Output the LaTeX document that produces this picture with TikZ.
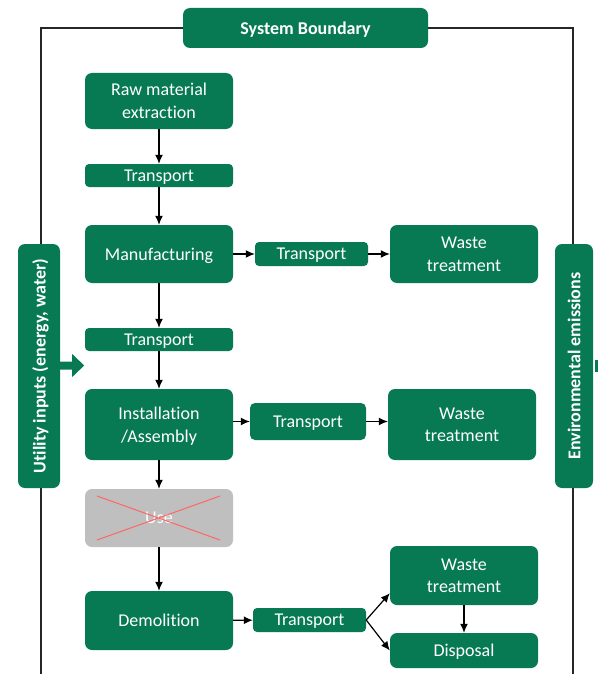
\documentclass[tikz,border=0pt]{standalone}
\usepackage{fontspec}
\setmainfont{Carlito}[Ligatures={TeX,NoCommon}]
\usetikzlibrary{arrows.meta}
\definecolor{lcagreen}{RGB}{7,122,84}
\definecolor{usegray}{RGB}{191,191,191}
\definecolor{crossred}{RGB}{255,102,102}
\newcommand{\boxfont}{\fontsize{18}{22.5}\selectfont}
\tikzset{
    stage/.style={fill=lcagreen,rounded corners=7pt,text=white,align=center,inner sep=0pt,text depth=0pt,font=\boxfont},
    flow/.style={line width=1.2pt,-{Latex[length=9pt,width=8pt]}},
    boundary/.style={line width=1.3pt,black!85}
}
\begin{document}
\begin{tikzpicture}[x=1pt,y=-1pt]
    \useasboundingbox (0,0) rectangle (598,674);
    \node[stage,font=\boxfont\bfseries,minimum width=245pt,minimum height=40pt] (sb) at (305.5,28) {System Boundary};
    \draw[boundary] (sb.west) -| (41,674);
    \draw[boundary] (sb.east) -| (573,674);
    % main chain
    \node[stage,minimum width=148pt,minimum height=56pt] (raw) at (159,101) {Raw material\\extraction};
    \node[stage,rounded corners=4pt,minimum width=148pt,minimum height=23pt] (tr1) at (159,175.5) {Transport};
    \node[stage,minimum width=148pt,minimum height=58pt] (manu) at (159,254) {Manufacturing};
    \node[stage,rounded corners=4pt,minimum width=148pt,minimum height=23pt] (tr2) at (159,339.5) {Transport};
    \node[stage,minimum width=148pt,minimum height=71pt] (inst) at (159,424.5) {Installation\\/Assembly};
    \node[stage,fill=usegray,minimum width=148pt,minimum height=58pt] (use) at (159,518) {Use};
    \draw[crossred,line width=1pt] (97,496) -- (220,540) (97,540) -- (220,496);
    \node[stage,minimum width=148pt,minimum height=59pt] (demo) at (159,620.5) {Demolition};
    % side branches
    \node[stage,rounded corners=4pt,minimum width=113pt,minimum height=24pt] (trm) at (311.5,254) {Transport};
    \node[stage,minimum width=148pt,minimum height=58pt] (wt1) at (464,254) {Waste\\treatment};
    \node[stage,rounded corners=5pt,minimum width=116pt,minimum height=37pt] (tri) at (308,421.5) {Transport};
    \node[stage,minimum width=148pt,minimum height=71pt] (wt2) at (462,424.5) {Waste\\treatment};
    \node[stage,rounded corners=4pt,minimum width=113pt,minimum height=24pt] (trd) at (309.5,620) {Transport};
    \node[stage,minimum width=148pt,minimum height=59pt] (wt3) at (464,575.5) {Waste\\treatment};
    \node[stage,minimum width=148pt,minimum height=35pt] (disp) at (464,650.5) {Disposal};
    % inputs and outputs
    \node[stage,font=\boxfont\bfseries,rotate=90,minimum width=244pt,minimum height=42pt] (util) at (39,366) {Utility inputs (energy, water)};
    \node[stage,font=\boxfont\bfseries,rotate=90,minimum width=244pt,minimum height=38pt] (env) at (574,366) {Environmental emissions};
    \fill[lcagreen] (util.south) ++(0,-4.5) -- ++(12,0) -- ++(0,-7.5) -- ++(12,11.5) -- ++(-12,11.5) -- ++(0,-7.5) -- ++(-12,0) -- cycle;
    \fill[lcagreen] (595,360) rectangle (598,372);
    % connectors
    \draw[flow] (raw) -- (tr1);
    \draw[flow] (tr1) -- (manu);
    \draw[flow] (manu) -- (tr2);
    \draw[flow] (tr2) -- (inst);
    \draw[flow] (inst) -- (use);
    \draw[flow] (use) -- (demo);
    \draw[flow] (manu) -- (trm);
    \draw[flow] (trm) -- (wt1);
    \draw[flow] (inst.east |- tri.west) -- (tri.west);
    \draw[flow] (tri.east) -- (tri.east -| wt2.west);
    \draw[flow] (demo) -- (trd);
    \draw[flow] (trd.east) -- ([yshift=12pt]wt3.south west);
    \draw[flow] (trd.east) -- (disp.west);
    \draw[flow] (wt3) -- (disp);
\end{tikzpicture}
\end{document}
